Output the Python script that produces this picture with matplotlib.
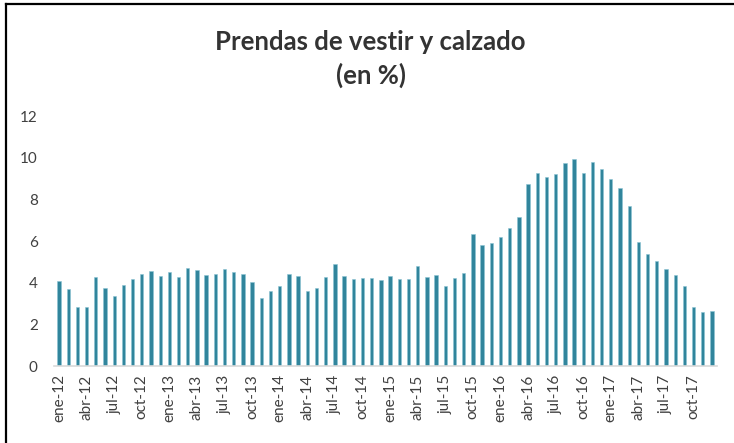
import matplotlib
matplotlib.use('Agg')
import matplotlib.pyplot as plt
from matplotlib.lines import Line2D

plt.rcParams['font.family'] = ['Lato', 'DejaVu Sans']

# Monthly values, ene-12 .. dic-17 (in %)
months = ['ene', 'feb', 'mar', 'abr', 'may', 'jun',
          'jul', 'ago', 'sep', 'oct', 'nov', 'dic']
years = ['12', '13', '14', '15', '16', '17']
labels = [m + '-' + y for y in years for m in months]

values = [
    4.10, 3.68, 2.83, 2.83, 4.29, 3.76, 3.34, 3.90, 4.19, 4.43, 4.56, 4.34,
    4.51, 4.29, 4.69, 4.61, 4.38, 4.43, 4.66, 4.51, 4.43, 4.02, 3.25, 3.58,
    3.86, 4.43, 4.34, 3.58, 3.73, 4.29, 4.90, 4.34, 4.19, 4.24, 4.24, 4.14,
    4.34, 4.19, 4.19, 4.80, 4.29, 4.38, 3.82, 4.24, 4.48, 6.34, 5.82, 5.92,
    6.21, 6.62, 7.14, 8.72, 9.28, 9.06, 9.23, 9.76, 9.94, 9.28, 9.81, 9.47,
    8.96, 8.53, 7.70, 5.97, 5.36, 5.02, 4.66, 4.38, 3.86, 2.83, 2.61, 2.66,
]

text_color = '#404040'
bar_color = '#31859C'

fig = plt.figure(figsize=(7.34, 4.43), dpi=100)
ax = fig.add_axes([0.0741, 0.1738, 0.9022, 0.5643])

x = list(range(len(values)))
ax.bar(x, values, width=0.36, color=bar_color, edgecolor='#8CC4D4', linewidth=0.4)

ax.set_xlim(-0.5, len(values) - 0.5)
ax.set_ylim(0, 12)
ax.set_yticks([0, 2, 4, 6, 8, 10, 12])
ax.set_xticks(x[::3])
ax.set_xticklabels(labels[::3], rotation=90)
ax.tick_params(axis='both', length=0, labelsize=11, colors=text_color)
ax.tick_params(axis='y', pad=12)
ax.tick_params(axis='x', pad=6)

for s in ['top', 'right', 'left']:
    ax.spines[s].set_visible(False)
ax.spines['bottom'].set_color('#D9D9D9')
ax.spines['bottom'].set_linewidth(1.2)

fig.text(0.505, 0.905, 'Prendas de vestir y calzado', ha='center', va='center',
         fontsize=18.5, fontweight='bold', color='#333333')
fig.text(0.505, 0.831, '(en %)', ha='center', va='center',
         fontsize=18.5, fontweight='bold', color='#333333')

# border on left and top like the screenshot
fig.add_artist(Line2D([0.0075, 0.0075], [0, 0.99], transform=fig.transFigure,
                      color='black', linewidth=1.6))
fig.add_artist(Line2D([0.0075, 1], [0.99, 0.99], transform=fig.transFigure,
                      color='black', linewidth=1.6))

fig.savefig('out.png', dpi=100)
